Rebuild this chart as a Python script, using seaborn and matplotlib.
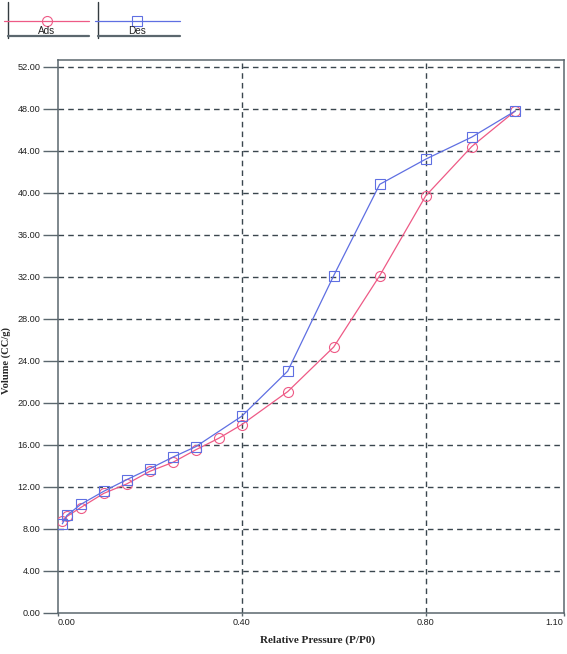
import numpy as np
import pandas as pd
import matplotlib
matplotlib.use("Agg")
import matplotlib.pyplot as plt
import seaborn as sns

# adsorption branch (Ads)
ads_p = [0.01, 0.02, 0.05, 0.10, 0.15, 0.20, 0.25, 0.30, 0.35, 0.40,
         0.50, 0.60, 0.70, 0.80, 0.90, 0.995]
ads_v = [8.70, 9.15, 10.0, 11.35, 12.25, 13.45, 14.3, 15.5, 16.6, 17.9,
         21.05, 25.3, 32.1, 39.7, 44.4, 47.8]

# desorption branch (Des)
des_p = [0.995, 0.90, 0.80, 0.70, 0.60, 0.50, 0.40, 0.30, 0.25, 0.20,
         0.15, 0.10, 0.05, 0.02, 0.01]
des_v = [47.8, 45.3, 43.2, 40.8, 32.1, 23.0, 18.7, 15.8, 14.8, 13.7,
         12.66, 11.55, 10.3, 9.25, 8.45]

x_ticks = [0.0, 0.40, 0.80, 1.10]
x_ticklabels = ["0.00", "0.40", "0.80", "1.10"]
y_ticks = np.arange(0, 53, 4)
y_ticklabels = ["%.2f" % v for v in y_ticks]

pink = "#EE5A86"
blue = "#5F6FE2"
grid_col = "#3a464e"
spine_col = "#5b676e"

sns.set_style("white")
plt.rcParams['font.family'] = ['Liberation Sans', 'DejaVu Sans']

W, H = 567, 654
fig = plt.figure(figsize=(W / 100, H / 100), dpi=100)
ax = fig.add_axes([57.7 / W, 1 - 612.5 / H, (563.7 - 57.7) / W, (612.5 - 60) / H])

ads = pd.DataFrame({"p": ads_p, "v": ads_v})
des = pd.DataFrame({"p": des_p, "v": des_v})

sns.lineplot(data=ads, x="p", y="v", ax=ax, sort=False, color=pink, lw=0.9,
             marker="o", markersize=7.2, markerfacecolor="none",
             markeredgecolor=pink, markeredgewidth=0.8, zorder=3)
sns.lineplot(data=des, x="p", y="v", ax=ax, sort=False, color=blue, lw=0.9,
             marker="s", markersize=7.2, markerfacecolor="none",
             markeredgecolor=blue, markeredgewidth=0.8, zorder=3)

ax.set_xlim(0, 1.10)
ax.set_ylim(0, 52.65)

# dashed grid
for yv in y_ticks[1:]:
    ax.axhline(yv, color=grid_col, lw=1.0, ls=(0, (4, 3)), zorder=1)
for xv in [0.40, 0.80]:
    ax.axvline(xv, color=grid_col, lw=1.0, ls=(0, (4, 3)), zorder=1)

for s in ax.spines.values():
    s.set_color(spine_col)
    s.set_linewidth(1.1)

ax.set_yticks(y_ticks)
ax.set_yticklabels(y_ticklabels, fontsize=6.6, color="#222222")
ax.tick_params(axis="y", direction="out", length=10.5, width=1.0,
               color=spine_col, pad=2, left=True)
ax.set_xticks(x_ticks)
ax.set_xticklabels(x_ticklabels, fontsize=6.6, color="#222222")
ax.tick_params(axis="x", direction="out", length=2.5, width=1.0,
               color=spine_col, pad=1.5, bottom=True)
xl = ax.get_xticklabels()
xl[0].set_ha("left")
xl[-1].set_ha("right")

ax.set_xlabel("")
ax.set_ylabel("")
fig.text(318 / W, 1 - 640 / H, "Relative Pressure (P/P0)", ha="center",
         va="center", fontsize=8, fontweight="bold", family="Liberation Serif")
fig.text(6 / W, 1 - 361 / H, "Volume (CC/g)", ha="center", va="center",
         rotation=90, fontsize=7.6, fontweight="bold", family="Liberation Serif")

# legend strip at the top
lax = fig.add_axes([0, 1 - 50 / H, 200 / W, 50 / H])
lax.set_xlim(0, 200)
lax.set_ylim(50, 0)
lax.axis("off")
for vx, x0, x1, cx, col, mk, name in [(8.3, 4, 89, 46.7, pink, "o", "Ads"),
                                      (97.7, 95, 180, 136.7, blue, "s", "Des")]:
    lax.plot([vx, vx], [2, 37.5], color="#333b40", lw=1.0)
    lax.plot([vx, x1], [36.3, 36.3], color="#5b676e", lw=1.6)
    lax.plot([x0, x1], [20.7, 20.7], color=col, lw=0.9)
    lax.plot([cx], [20.7], marker=mk, ms=7.2, mfc="none", mec=col, mew=0.8)
    lax.text(cx, 31, name, ha="center", va="center", fontsize=7.2, color="#222222")

fig.savefig("out.png", dpi=100)
